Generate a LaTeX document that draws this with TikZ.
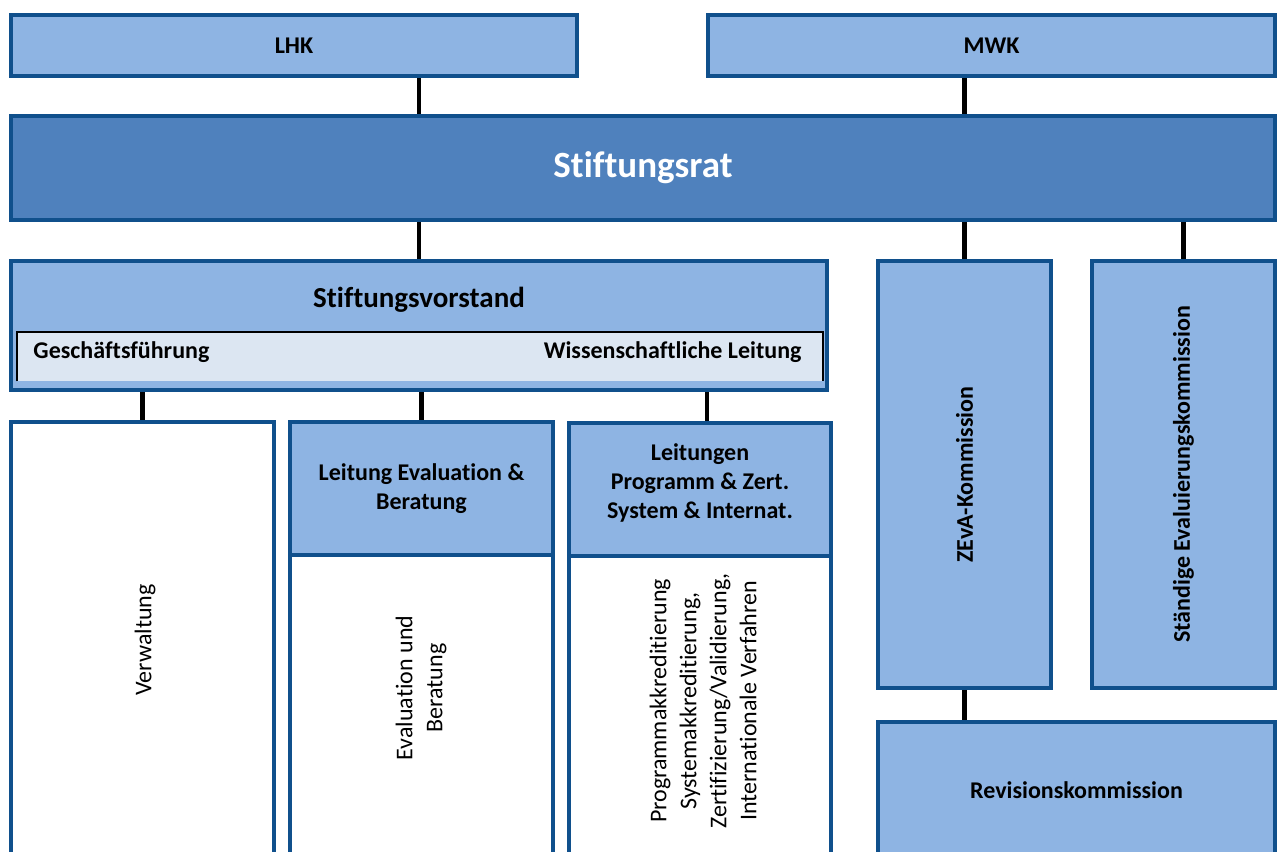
\documentclass[tikz,border=0pt]{standalone}
\usepackage{fontspec}
\setmainfont[Ligatures=NoCommon]{Carlito}
\usetikzlibrary{backgrounds}
\definecolor{orgBorder}{RGB}{16,80,140}
\definecolor{orgFill}{RGB}{142,180,227}
\definecolor{orgDark}{RGB}{79,129,189}
\definecolor{orgPale}{RGB}{220,230,242}
\tikzset{every picture/.style={line width=0.75pt}}
\tikzset{
  orgbox/.style={draw=orgBorder, fill=orgFill, line width=3.5pt, inner sep=0pt, align=center, font=\fontsize{18}{21.5}\selectfont\bfseries},
  whitebox/.style={orgbox, fill=white},
  link/.style={line width=3.5pt, black},
  vtext/.style={rotate=90, align=center, inner sep=0pt, font=\fontsize{18}{22.5}\selectfont},
}

\begin{document}
\begin{tikzpicture}[x=0.75pt,y=0.75pt,yscale=-1,xscale=1]
\useasboundingbox (0,0) rectangle (1279,852);
\clip (0,0) rectangle (1279,852);

%Top row
\node [orgbox, minimum width=424.5pt, minimum height=45.75pt] (lhk) at (294,45.5) {LHK};
\node [orgbox, minimum width=425.25pt, minimum height=45.75pt] (mwk) at (991.5,45.5) {MWK};
%Stiftungsrat
\node [orgbox, fill=orgDark, text=white, minimum width=948pt, minimum height=78pt, font=\fontsize{27.75}{33}\selectfont\bfseries] (rat) at (643,168) {Stiftungsrat};

%Stiftungsvorstand
\node [orgbox, minimum width=612pt, minimum height=96.75pt] (vorstand) at (419,325.5) {};
\node [inner sep=0pt, font=\fontsize{21.75}{26}\selectfont\bfseries] (vstitle) at (419,300) {Stiftungsvorstand};
\node [fill=orgPale, inner sep=0pt, minimum width=603.75pt, minimum height=36pt] (leitung) at (419.5,357) {};
\draw [line width=1.5pt] (leitung.south west) |- (leitung.north east) -- (leitung.south east);
\node [anchor=west, inner sep=0pt, font=\fontsize{18}{21.5}\selectfont\bfseries] (gf) at (33,352) {Geschäftsführung};
\node [anchor=east, inner sep=0pt, font=\fontsize{18}{21.5}\selectfont\bfseries] (wl) at (802,352) {Wissenschaftliche Leitung};

%Kommissionen
\node [orgbox, minimum width=129.75pt, minimum height=320.25pt] (zeva) at (964.5,474.5) {};
\node [vtext, font=\fontsize{18}{21.5}\selectfont\bfseries] (zevatxt) at (zeva.center) {ZEvA-Kommission};
\node [orgbox, minimum width=137.25pt, minimum height=320.25pt] (staendige) at (1183.5,474.5) {};
\node [vtext, font=\fontsize{18}{21.5}\selectfont\bfseries] (staendigetxt) at (staendige.center) {Ständige Evaluierungskommission};
\node [orgbox, minimum width=297.75pt, minimum height=102pt] (rev) at (1076.5,790) {Revisionskommission};

%Bereiche
\node [whitebox, minimum width=197.25pt, minimum height=327pt] (verw) at (142.5,640) {};
\node [vtext] (verwtxt) at (145,640) {Verwaltung};

\node [orgbox, minimum width=197.25pt, minimum height=99.75pt] (evhead) at (421.5,488.5) {Leitung Evaluation \&\\Beratung};
\node [whitebox, minimum width=197.25pt, minimum height=236.25pt] (evbody) at (421.5,712.5) {};
\node [vtext] (evtxt) at (421,688) {Evaluation und\\Beratung};

\node [orgbox, minimum width=196.5pt, minimum height=99.75pt] (leithead) at (700,489.5) {};
\node [inner sep=0pt, align=center, font=\fontsize{18}{21.5}\selectfont\bfseries] (leitheadtxt) at (700,483) {Leitungen\\Programm \& Zert.\\System \& Internat.};
\node [whitebox, minimum width=196.5pt, minimum height=235.5pt] (leitbody) at (700,713) {};
\node [vtext] (leittxt) at (703,701) {Programmakkreditierung\\Systemakkreditierung,\\Zertifizierung/Validierung,\\Internationale Verfahren};

%Connectors
\begin{scope}[on background layer]
\draw [link] (lhk.south -| vorstand.north) -- (rat.north -| vorstand.north);
\draw [link] (mwk.south -| zeva.north) -- (rat.north -| zeva.north);
\draw [link] (rat.south -| vorstand.north) -- (vorstand.north);
\draw [link] (rat.south -| zeva.north) -- (zeva.north);
\draw [link] (rat.south -| staendige.north) -- (staendige.north);
\draw [link] (zeva.south) -- (zeva.south |- rev.north);
\draw [link] (vorstand.south -| verw.north) -- (verw.north);
\draw [link] (vorstand.south -| evhead.north) -- (evhead.north);
\draw [link] ([xshift=5.25pt]leithead.north |- vorstand.south) -- ([xshift=5.25pt]leithead.north);
\end{scope}

\end{tikzpicture}
\end{document}
